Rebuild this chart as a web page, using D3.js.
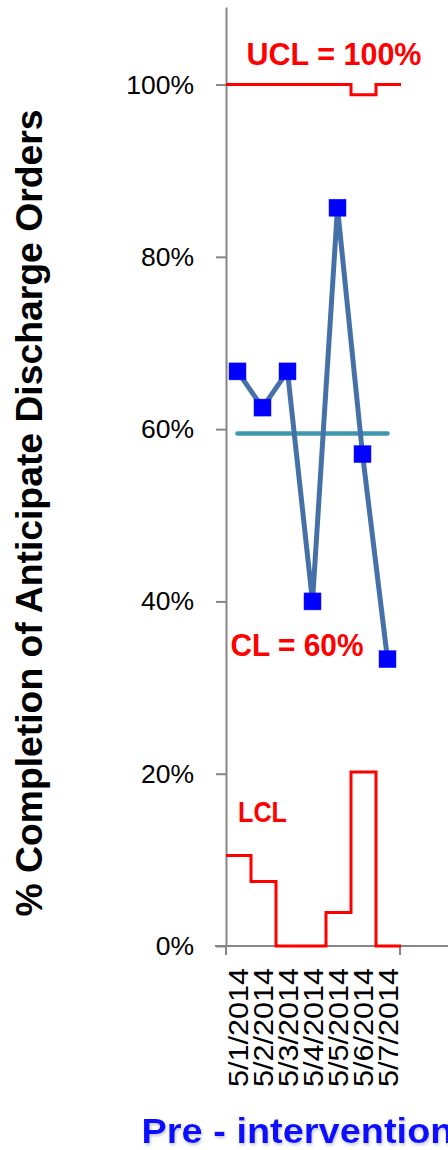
<!DOCTYPE html>
<html>
<head>
<meta charset="utf-8">
<script src="https://cdn.jsdelivr.net/npm/d3@7/dist/d3.min.js"></script>
<style>
  html, body { margin: 0; padding: 0; background: #fff; }
  svg { display: block; }
  text { font-family: "Liberation Sans", Arial, sans-serif; }
</style>
</head>
<body>
<div id="chart"></div>
<script>
// ---- data ----
const dates = ["5/1/2014", "5/2/2014", "5/3/2014", "5/4/2014", "5/5/2014", "5/6/2014", "5/7/2014"];
const pctComplete = [0.667, 0.625, 0.667, 0.400, 0.857, 0.571, 0.333];
const centerLine = [0.595, 0.595, 0.595, 0.595, 0.595, 0.595, 0.595];
const ucl = [1.0, 1.0, 1.0, 1.0, 1.0, 0.988, 1.0];
const lcl = [0.105, 0.075, 0.0, 0.0, 0.039, 0.202, 0.0];
const yTicks = [0, 0.2, 0.4, 0.6, 0.8, 1.0];
const yTitle = "% Completion of Anticipate Discharge Orders";
const xTitle = "Pre - intervention";
const uclLabel = "UCL = 100%";
const clLabel = "CL = 60%";
const lclLabel = "LCL";

// ---- layout ----
const W = 448, H = 1150;
const svg = d3.select("#chart").append("svg").attr("width", W).attr("height", H);

const x = d3.scaleBand().domain(dates).range([226, 401]).padding(0);
const y = d3.scaleLinear().domain([0, 1.09]).range([946, 7]);
const cx = d => x(d) + x.bandwidth() / 2;

const axisColor = "#868686";

// y axis
const yAxis = d3.axisLeft(y).tickValues(yTicks).tickFormat(d3.format(".0%"))
  .tickSize(10).tickSizeOuter(0).tickPadding(22);
const gy = svg.append("g").attr("transform", "translate(226,0)").call(yAxis);
gy.select(".domain").attr("stroke", axisColor).attr("stroke-width", 2);
gy.selectAll(".tick line").attr("stroke", axisColor).attr("stroke-width", 2);
gy.selectAll(".tick text").attr("font-size", "26.5px").attr("fill", "#000")
  .attr("font-family", "Liberation Sans, Arial, sans-serif");

// x axis line (extends toward the cut-off right pane)
svg.append("line").attr("x1", 215).attr("x2", W).attr("y1", y(0)).attr("y2", y(0))
  .attr("stroke", axisColor).attr("stroke-width", 2);
// x axis ticks at pane boundaries
const xEdges = [x.range()[0], x(dates[dates.length - 1]) + x.bandwidth() - 1];
svg.selectAll(".xtick").data(xEdges).enter().append("line")
  .attr("x1", d => d).attr("x2", d => d).attr("y1", y(0)).attr("y2", y(0) + 9)
  .attr("stroke", axisColor).attr("stroke-width", 2);

// date labels, rotated
svg.selectAll(".xlab").data(dates).enter().append("text")
  .attr("transform", d => `translate(${cx(d) - 1},${y(0) + 22}) rotate(-90)`)
  .attr("text-anchor", "end").attr("dy", "0.36em")
  .attr("font-size", "28px").attr("fill", "#000")
  .attr("textLength", 119).attr("lengthAdjust", "spacingAndGlyphs")
  .text(d => d);

// step lines for control limits
function stepPts(vals) {
  const pts = dates.map((d, i) => [x(d), y(vals[i])]);
  const last = dates[dates.length - 1];
  pts.push([x(last) + x.bandwidth(), y(vals[vals.length - 1])]);
  return pts;
}
const stepLine = d3.line().curve(d3.curveStepAfter);
svg.append("path").attr("d", stepLine(stepPts(ucl)))
  .attr("fill", "none").attr("stroke", "#ff0000").attr("stroke-width", 3);
svg.append("path").attr("d", stepLine(stepPts(lcl)))
  .attr("fill", "none").attr("stroke", "#ff0000").attr("stroke-width", 3);

// center line
const line = d3.line().x((v, i) => cx(dates[i]) - 1).y(v => y(v));
svg.append("path").attr("d", line(centerLine))
  .attr("fill", "none").attr("stroke", "#3f98b0").attr("stroke-width", 4.5)
  .attr("stroke-linecap", "round");

// data line
svg.append("path").attr("d", line(pctComplete))
  .attr("fill", "none").attr("stroke", "#4671a8").attr("stroke-width", 5)
  .attr("stroke-linejoin", "round");

// markers
const ms = 17;
svg.selectAll(".pt").data(pctComplete).enter().append("rect")
  .attr("x", (v, i) => cx(dates[i]) - 1 - ms / 2)
  .attr("y", v => y(v) - ms / 2)
  .attr("width", ms).attr("height", ms)
  .attr("fill", "#0000ff").attr("stroke", "#1a1aff").attr("stroke-width", 0.5);

// annotations
svg.append("text").attr("x", 246.5).attr("y", 65).attr("font-size", "31px")
  .attr("font-weight", "bold").attr("fill", "#ff0000")
  .attr("textLength", 175).attr("lengthAdjust", "spacingAndGlyphs").text(uclLabel);
svg.append("text").attr("x", 230.5).attr("y", 655.5).attr("font-size", "31px")
  .attr("font-weight", "bold").attr("fill", "#ff0000")
  .attr("textLength", 133).attr("lengthAdjust", "spacingAndGlyphs").text(clLabel);
svg.append("text").attr("x", 238).attr("y", 821.5).attr("font-size", "30px")
  .attr("font-weight", "bold").attr("fill", "#ff0000")
  .attr("textLength", 49).attr("lengthAdjust", "spacingAndGlyphs").text(lclLabel);

// y title
svg.append("text").attr("transform", "translate(42,513) rotate(-90)")
  .attr("text-anchor", "middle").attr("font-size", "36px").attr("font-weight", "bold")
  .attr("fill", "#000").attr("textLength", 807).attr("lengthAdjust", "spacingAndGlyphs")
  .text(yTitle);

// x title (cut off at right edge like the reference)
const defs = svg.append("defs");
const f = defs.append("filter").attr("id", "glow").attr("x", "-10%").attr("y", "-30%")
  .attr("width", "120%").attr("height", "160%");
f.append("feGaussianBlur").attr("in", "SourceAlpha").attr("stdDeviation", 1.5).attr("result", "b");
f.append("feFlood").attr("flood-color", "#9aa0c0").attr("flood-opacity", 0.6);
f.append("feComposite").attr("in2", "b").attr("operator", "in").attr("result", "s");
f.append("feOffset").attr("in", "s").attr("dx", 1).attr("dy", 1.5).attr("result", "so");
const fm = f.append("feMerge");
fm.append("feMergeNode").attr("in", "so");
fm.append("feMergeNode").attr("in", "SourceGraphic");
svg.append("text").attr("x", 141.5).attr("y", 1142.5).attr("font-size", "35px")
  .attr("font-weight", "bold").attr("fill", "#0a0aff").attr("filter", "url(#glow)")
  .attr("textLength", 312).attr("lengthAdjust", "spacingAndGlyphs").text(xTitle);
</script>
</body>
</html>
